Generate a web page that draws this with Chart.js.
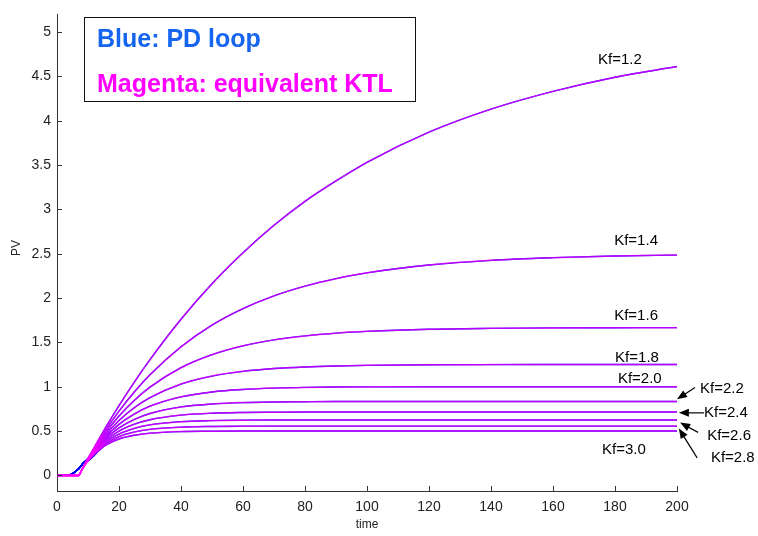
<!DOCTYPE html>
<html>
<head>
<meta charset="utf-8">
<script src="https://cdn.jsdelivr.net/npm/chart.js@4.4.1/dist/chart.umd.min.js"></script>
<style>
  body { margin: 0; background: #fff; }
  #wrap { width: 758px; height: 536px; position: relative; }
</style>
</head>
<body>
<div id="wrap"><canvas id="graficoPV"></canvas></div>
<script>
// time samples of the KTL (magenta) curves
const time = [0, 7, 8, 10, 15, 20, 25, 30, 40, 50, 60, 70, 80, 90, 100, 120, 140, 160, 180, 200];

const kf12 = [0, 0, 0.065, 0.194, 0.50, 0.786, 1.055, 1.305, 1.76, 2.16, 2.51, 2.82, 3.09, 3.32, 3.53, 3.87, 4.13, 4.33, 4.49, 4.61];
const kf14 = [0, 0, 0.065, 0.19, 0.475, 0.725, 0.943, 1.135, 1.45, 1.694, 1.88, 2.024, 2.134, 2.218, 2.284, 2.372, 2.425, 2.455, 2.474, 2.484];
const kf16 = [0, 0, 0.064, 0.186, 0.451, 0.669, 0.848, 0.995, 1.214, 1.361, 1.461, 1.528, 1.573, 1.604, 1.624, 1.648, 1.658, 1.663, 1.665, 1.666];
const kf18 = [0, 0, 0.064, 0.183, 0.430, 0.619, 0.765, 0.877, 1.030, 1.120, 1.173, 1.205, 1.223, 1.234, 1.241, 1.247, 1.249, 1.25, 1.25, 1.25];
const kf20 = [0, 0, 0.063, 0.179, 0.409, 0.575, 0.694, 0.780, 0.886, 0.941, 0.969, 0.984, 0.992, 0.996, 0.998, 1, 1, 1, 1, 1];
const kf22 = [0, 0, 0.063, 0.176, 0.390, 0.535, 0.632, 0.698, 0.772, 0.805, 0.821, 0.828, 0.831, 0.833, 0.833, 0.833, 0.833, 0.833, 0.833, 0.833];
const kf24 = [0, 0, 0.063, 0.172, 0.372, 0.499, 0.578, 0.628, 0.680, 0.701, 0.709, 0.712, 0.714, 0.714, 0.714, 0.714, 0.714, 0.714, 0.714, 0.714];
const kf26 = [0, 0, 0.062, 0.169, 0.356, 0.466, 0.531, 0.570, 0.606, 0.618, 0.623, 0.625, 0.625, 0.625, 0.625, 0.625, 0.625, 0.625, 0.625, 0.625];
const kf28 = [0, 0, 0.062, 0.166, 0.340, 0.436, 0.490, 0.519, 0.544, 0.552, 0.555, 0.556, 0.556, 0.556, 0.556, 0.556, 0.556, 0.556, 0.556, 0.556];
const kf30 = [0, 0, 0.062, 0.163, 0.325, 0.410, 0.453, 0.476, 0.494, 0.498, 0.5, 0.5, 0.5, 0.5, 0.5, 0.5, 0.5, 0.5, 0.5, 0.5];

// PD loop (blue) start, same for every Kf, then it runs on the KTL curve from t=10
const pdTime = [0, 3.5, 5, 7, 8.5];
const pdStart = [0, 0, 0.02, 0.075, 0.14];

const kfNames = ["Kf=1.2", "Kf=1.4", "Kf=1.6", "Kf=1.8", "Kf=2.0", "Kf=2.2", "Kf=2.4", "Kf=2.6", "Kf=2.8", "Kf=3.0"];
const kfSeries = [kf12, kf14, kf16, kf18, kf20, kf22, kf24, kf26, kf28, kf30];

const xTicks = [0, 20, 40, 60, 80, 100, 120, 140, 160, 180, 200];
const yTicks = [0, 0.5, 1, 1.5, 2, 2.5, 3, 3.5, 4, 4.5, 5];

// label places in data units (time, PV)
const kfLabelPos = [[181.6, 4.69], [186.8, 2.64], [186.8, 1.80], [187.1, 1.32], [188, 1.09],
                    [214.5, 0.98], [215.8, 0.705], [216.8, 0.45], [218, 0.198], [182.9, 0.286]];
const arrows = [[205.8, 0.991, 200, 0.859], [208.7, 0.705, 200.6, 0.705],
                [206.8, 0.485, 201, 0.595], [206.5, 0.198, 200.6, 0.529]];

Chart.defaults.font.family = "'Liberation Sans', Arial, sans-serif";

const datasets = [];
kfSeries.forEach((vals, i) => {
    datasets.push({
        label: kfNames[i] + " KTL",
        data: time.map((t, j) => ({x: t, y: vals[j]})),
        borderColor: "rgba(255,0,255,0.72)",
        borderWidth: 1.5,
        order: 1
    });
});
kfSeries.forEach((vals, i) => {
    const pts = pdTime.map((t, j) => ({x: t, y: pdStart[j]}));
    time.forEach((t, j) => { if (t >= 10) pts.push({x: t, y: vals[j]}); });
    datasets.push({
        label: kfNames[i] + " PD",
        data: pts,
        borderColor: "#0000ff",
        borderWidth: 1.4,
        order: 2
    });
});

const decor = {
    id: "decor",
    afterDraw(chart) {
        const {ctx, chartArea, scales: {x, y}} = chart;
        ctx.save();
        // inward tick marks
        ctx.strokeStyle = "#333";
        ctx.lineWidth = 1;
        xTicks.forEach(v => {
            const px = Math.round(x.getPixelForValue(v)) + 0.5;
            ctx.beginPath(); ctx.moveTo(px, chartArea.bottom); ctx.lineTo(px, chartArea.bottom - 5); ctx.stroke();
        });
        yTicks.forEach(v => {
            const py = Math.round(y.getPixelForValue(v)) + 0.5;
            ctx.beginPath(); ctx.moveTo(chartArea.left, py); ctx.lineTo(chartArea.left + 5, py); ctx.stroke();
        });

        // axis titles
        ctx.fillStyle = "#222";
        ctx.font = "12px 'Liberation Sans', Arial, sans-serif";
        ctx.textAlign = "center";
        ctx.textBaseline = "middle";
        ctx.fillText("time", x.getPixelForValue(100), 525);
        ctx.save();
        ctx.translate(17, 248);
        ctx.rotate(-Math.PI / 2);
        ctx.fillText("PV", 0, 0);
        ctx.restore();

        // legend box
        ctx.fillStyle = "#fff";
        ctx.fillRect(84, 17, 332, 85);
        ctx.strokeStyle = "#111";
        ctx.strokeRect(84.5, 17.5, 331, 84);
        ctx.textAlign = "left";
        ctx.textBaseline = "alphabetic";
        ctx.font = "bold 25px 'Liberation Sans', Arial, sans-serif";
        ctx.fillStyle = "#1565f0";
        ctx.fillText("Blue: PD loop", 97, 47);
        ctx.fillStyle = "#ff00ff";
        ctx.fillText("Magenta: equivalent KTL", 97, 92);

        // Kf labels
        ctx.fillStyle = "#000";
        ctx.font = "15px 'Liberation Sans', Arial, sans-serif";
        ctx.textAlign = "center";
        ctx.textBaseline = "middle";
        kfNames.forEach((name, i) => {
            const [t, v] = kfLabelPos[i];
            ctx.fillText(name, x.getPixelForValue(t), y.getPixelForValue(v));
        });

        // arrows
        ctx.strokeStyle = "#000";
        ctx.lineWidth = 1.2;
        arrows.forEach(([t0, v0, t1, v1]) => {
            const x0 = x.getPixelForValue(t0), y0 = y.getPixelForValue(v0);
            const x1 = x.getPixelForValue(t1), y1 = y.getPixelForValue(v1);
            const a = Math.atan2(y1 - y0, x1 - x0);
            ctx.beginPath(); ctx.moveTo(x0, y0); ctx.lineTo(x1 - 6 * Math.cos(a), y1 - 6 * Math.sin(a)); ctx.stroke();
            ctx.beginPath();
            ctx.moveTo(x1, y1);
            ctx.lineTo(x1 - 10 * Math.cos(a) + 4 * Math.sin(a), y1 - 10 * Math.sin(a) - 4 * Math.cos(a));
            ctx.lineTo(x1 - 10 * Math.cos(a) - 4 * Math.sin(a), y1 - 10 * Math.sin(a) + 4 * Math.cos(a));
            ctx.closePath();
            ctx.fill();
        });
        ctx.restore();
    }
};

new Chart(document.getElementById("graficoPV"), {
    type: "line",
    data: {datasets: datasets},
    options: {
        responsive: true,
        maintainAspectRatio: false,
        animation: false,
        layout: {padding: {top: 3, right: 81, left: 0, bottom: 0}},
        elements: {
            point: {radius: 0},
            line: {cubicInterpolationMode: "monotone", fill: false}
        },
        plugins: {
            legend: {display: false},
            tooltip: {enabled: false}
        },
        scales: {
            x: {
                type: "linear",
                min: 0,
                max: 200,
                afterFit: s => { s.height = 45; },
                afterBuildTicks: s => { s.ticks = xTicks.map(v => ({value: v})); },
                grid: {display: false, drawTicks: false},
                border: {display: true, color: "#333", width: 1},
                ticks: {color: "#222", font: {size: 14}, padding: 8, maxRotation: 0, callback: v => String(v)}
            },
            y: {
                type: "linear",
                min: -0.176,
                max: 5.198,
                afterFit: s => { s.width = 57; },
                afterBuildTicks: s => { s.ticks = yTicks.map(v => ({value: v})); },
                grid: {display: false, drawTicks: false},
                border: {display: true, color: "#333", width: 1},
                ticks: {color: "#222", font: {size: 14}, padding: 6, callback: v => String(v)}
            }
        }
    },
    plugins: [decor]
});
</script>
</body>
</html>
